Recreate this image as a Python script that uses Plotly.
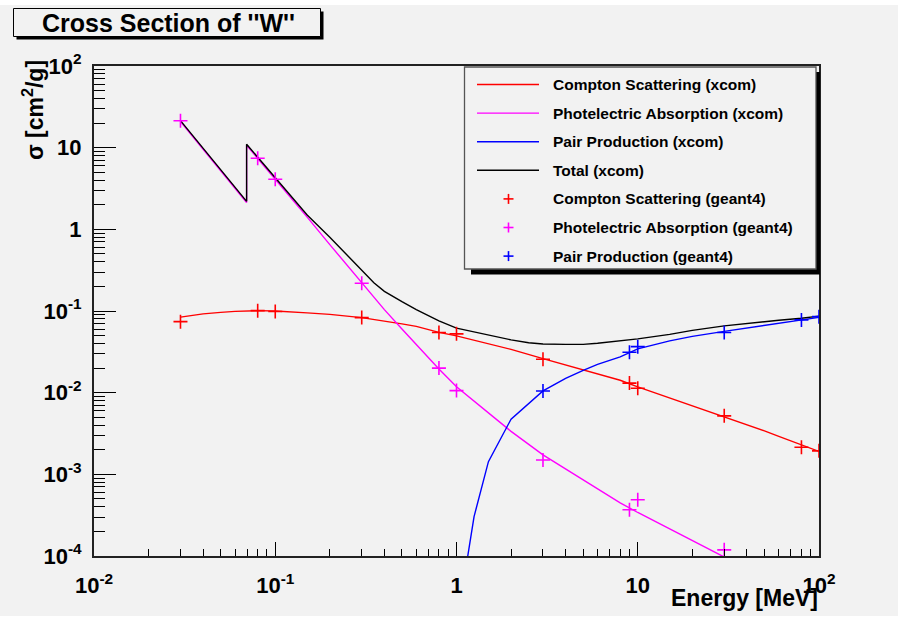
import plotly.graph_objects as go

# ---------------- data ----------------
# XCOM curves
compton_E = [0.03, 0.04, 0.05, 0.06, 0.08, 0.1, 0.15, 0.2, 0.3, 0.4, 0.5, 0.6, 0.8, 1, 1.5, 2, 3, 4, 5, 6, 8, 10,
             15, 20, 30, 40, 50, 60, 80, 100]
compton_xcom = [0.084, 0.0923, 0.0962, 0.0989, 0.101, 0.100, 0.0948, 0.0908, 0.083, 0.0757, 0.0695, 0.0648, 0.0547,
                0.0496, 0.0402, 0.0339, 0.0261, 0.0219, 0.0193, 0.017, 0.0142, 0.0118, 0.00864, 0.0070, 0.00513,
                0.00409, 0.0034, 0.00292, 0.0023, 0.00191]

photo_E = [0.03, 0.0695, 0.0695, 0.08, 0.1, 0.15, 0.2, 0.3, 0.4, 0.5, 0.6, 0.8, 1, 1.5, 2, 3, 4, 5, 6, 8, 10, 15,
           20, 30, 40]
photo_xcom = [20.9, 2.13, 10.7, 7.4, 4.15, 1.41, 0.65, 0.219, 0.104, 0.0603, 0.0385, 0.0195, 0.0118, 0.0057,
              0.00336, 0.00173, 0.00117, 8.56e-4, 6.64e-4, 4.48e-4, 3.41e-4, 2.15e-4, 1.53e-4, 9.8e-5, 7.0e-5]

pair_E = [1.022, 1.25, 1.5, 2, 3, 4, 5, 6, 8, 10, 15, 20, 30, 40, 50, 60, 80, 100]
pair_xcom = [1.85e-5, 3.04e-4, 1.43e-3, 4.74e-3, 0.0105, 0.015, 0.0188, 0.0222, 0.0275, 0.0344, 0.043, 0.0489,
             0.0563, 0.0621, 0.0667, 0.0706, 0.0778, 0.0836]

total_E = [0.03, 0.0695, 0.0695, 0.08, 0.1, 0.15, 0.2, 0.25, 0.3, 0.35, 0.4, 0.45, 0.5, 0.6, 0.8, 1, 1.5, 2, 2.5,
           3, 4, 5, 6, 8, 10, 15, 20, 30, 40, 50, 60, 80, 100]
total_xcom = [21.4, 2.2, 11.0, 7.6, 4.26, 1.5, 0.80, 0.475, 0.31, 0.222, 0.174, 0.148, 0.130, 0.104, 0.0757,
              0.0617, 0.0506, 0.0443, 0.0409, 0.0395, 0.039, 0.039, 0.0402, 0.0427, 0.0455, 0.0517, 0.058, 0.0658,
              0.0708, 0.0742, 0.0772, 0.0815, 0.0865]

# Geant4 points
g4_E = [0.03, 0.08, 0.1, 0.3, 0.8, 1, 3, 9, 10, 30, 80, 100]
compton_g4 = [0.0741, 0.101, 0.0984, 0.083, 0.0545, 0.0525, 0.0257, 0.0131, 0.01135, 0.0052, 0.00215, 0.00194]
photo_g4_E = [0.03, 0.08, 0.1, 0.3, 0.8, 1, 3, 9, 10, 30]
photo_g4 = [21.4, 7.41, 4.10, 0.219, 0.020, 0.0106, 0.0015, 3.68e-4, 4.88e-4, 1.19e-4]
pair_g4_E = [3, 9, 10, 30, 80, 100]
pair_g4 = [0.0105, 0.0313, 0.0366, 0.0545, 0.0778, 0.0853]

x_tickvals = [0.01, 0.1, 1, 10, 100]
x_ticktext = ["10<sup>-2</sup>", "10<sup>-1</sup>", "1", "10", "10<sup>2</sup>"]
y_tickvals = [1e-4, 1e-3, 1e-2, 1e-1, 1, 10, 100]
y_ticktext = ["10<sup>-4</sup>", "10<sup>-3</sup>", "10<sup>-2</sup>", "10<sup>-1</sup>", "1", "10", "10<sup>2</sup>"]

legend_labels = ["Compton Scattering (xcom)", "Photelectric Absorption (xcom)", "Pair Production (xcom)",
                 "Total (xcom)", "Compton Scattering (geant4)", "Photelectric Absorption (geant4)",
                 "Pair Production (geant4)"]
legend_colors = ["#ff0000", "#ff00ff", "#0000ff", "#000000", "#ff0000", "#ff00ff", "#0000ff"]
legend_kinds = ["line", "line", "line", "line", "marker", "marker", "marker"]

# ---------------- layout geometry ----------------
W, H = 898, 619
L, R, T, B = 94, 819, 66, 556
BG = "#f2f2f2"
FONT = "Liberation Sans, Arial, Helvetica, sans-serif"


def px(x):
    return (x - L) / (R - L)


def py(y):
    return (B - y) / (B - T)


fig = go.Figure()

line_w = 1.4
for E, v, c in [(compton_E, compton_xcom, "#ff0000"), (photo_E, photo_xcom, "#ff00ff"),
                (pair_E, pair_xcom, "#0000ff"), (total_E, total_xcom, "#000000")]:
    fig.add_trace(go.Scatter(x=E, y=v, mode="lines", line=dict(color=c, width=line_w), showlegend=False,
                             hoverinfo="x+y"))

for E, v, c in [(g4_E, compton_g4, "#ff0000"), (photo_g4_E, photo_g4, "#ff00ff"), (pair_g4_E, pair_g4, "#0000ff")]:
    fig.add_trace(go.Scatter(x=E, y=v, mode="markers",
                             marker=dict(symbol="cross-thin", size=10, color=c, line=dict(color=c, width=1.6)),
                             showlegend=False, hoverinfo="x+y"))

x_minor = [m * d for d in [0.01, 0.1, 1, 10] for m in range(2, 10)]
y_minor = [m * d for d in [1e-4, 1e-3, 1e-2, 1e-1, 1, 10] for m in range(2, 10)]

tickfont = dict(family=FONT, size=22, color="black", weight="bold")

fig.update_xaxes(type="log", range=[-2, 2], showgrid=False, zeroline=False,
                 showline=True, linecolor="#222", linewidth=2, mirror=True,
                 ticks="inside", ticklen=14, tickwidth=1, tickcolor="black",
                 tickmode="array", tickvals=x_tickvals, ticktext=x_ticktext, tickfont=tickfont,
                 ticklabelstandoff=9,
                 minor=dict(tickmode="array", tickvals=x_minor, ticks="inside", ticklen=7.5,
                            tickwidth=1, tickcolor="black", showgrid=False))
fig.update_yaxes(type="log", range=[-4, 2], showgrid=False, zeroline=False,
                 showline=True, linecolor="#222", linewidth=2, mirror=True,
                 ticks="inside", ticklen=22, tickwidth=1, tickcolor="black",
                 tickmode="array", tickvals=y_tickvals, ticktext=y_ticktext, tickfont=tickfont,
                 ticklabelstandoff=6,
                 minor=dict(tickmode="array", tickvals=y_minor, ticks="inside", ticklen=11,
                            tickwidth=1, tickcolor="black", showgrid=False))

shapes = []
annotations = []

# canvas
shapes.append(dict(type="rect", xref="paper", yref="paper", x0=px(0), x1=px(W), y0=py(616), y1=py(5),
                   fillcolor=BG, line=dict(width=0), layer="below"))

# title box with shadow
shapes.append(dict(type="rect", xref="paper", yref="paper", x0=px(16.5), x1=px(323.5), y0=py(39.5), y1=py(11.5),
                   fillcolor="black", line=dict(width=0)))
shapes.append(dict(type="rect", xref="paper", yref="paper", x0=px(13.5), x1=px(320.5), y0=py(36.5), y1=py(8.5),
                   fillcolor=BG, line=dict(color="black", width=1)))
annotations.append(dict(xref="paper", yref="paper", x=px(168), y=py(23), xanchor="center", yanchor="middle",
                        text="Cross Section of ''W''", showarrow=False,
                        font=dict(family=FONT, size=25, color="black", weight="bold")))

# legend box with shadow
shapes.append(dict(type="rect", xref="paper", yref="paper", x0=px(471), x1=px(820), y0=py(274.5), y1=py(72),
                   fillcolor="black", line=dict(width=0)))
shapes.append(dict(type="rect", xref="paper", yref="paper", x0=px(464.5), x1=px(816), y0=py(269), y1=py(67),
                   fillcolor=BG, line=dict(color="#555", width=1.3)))
for i, (lab, col, kind) in enumerate(zip(legend_labels, legend_colors, legend_kinds)):
    yc = 84.5 + i * 28.6
    if kind == "line":
        shapes.append(dict(type="line", xref="paper", yref="paper", x0=px(477), x1=px(539), y0=py(yc), y1=py(yc),
                           line=dict(color=col, width=line_w)))
    else:
        shapes.append(dict(type="line", xref="paper", yref="paper", x0=px(503.5), x1=px(513.5), y0=py(yc),
                           y1=py(yc), line=dict(color=col, width=1.6)))
        shapes.append(dict(type="line", xref="paper", yref="paper", x0=px(508.5), x1=px(508.5), y0=py(yc - 5),
                           y1=py(yc + 5), line=dict(color=col, width=1.6)))
    annotations.append(dict(xref="paper", yref="paper", x=px(551), y=py(yc), xanchor="left", yanchor="middle",
                            text=lab, showarrow=False,
                            font=dict(family=FONT, size=15.5, color="black", weight="bold")))

# axis titles
annotations.append(dict(xref="paper", yref="paper", x=px(820), y=py(598), xanchor="right", yanchor="middle",
                        text="Energy [MeV]", showarrow=False,
                        font=dict(family=FONT, size=23, color="black", weight="bold")))
annotations.append(dict(xref="paper", yref="paper", x=px(33), y=py(110), xanchor="center", yanchor="middle",
                        text="σ [cm<sup>2</sup>/g]", textangle=-90, showarrow=False,
                        font=dict(family=FONT, size=23, color="black", weight="bold")))

fig.update_layout(width=W, height=H, margin=dict(l=L, r=W - R, t=T, b=H - B, pad=0),
                  paper_bgcolor="white", plot_bgcolor=BG, shapes=shapes, annotations=annotations,
                  showlegend=False, hovermode="closest")

fig.write_html("out.html")
